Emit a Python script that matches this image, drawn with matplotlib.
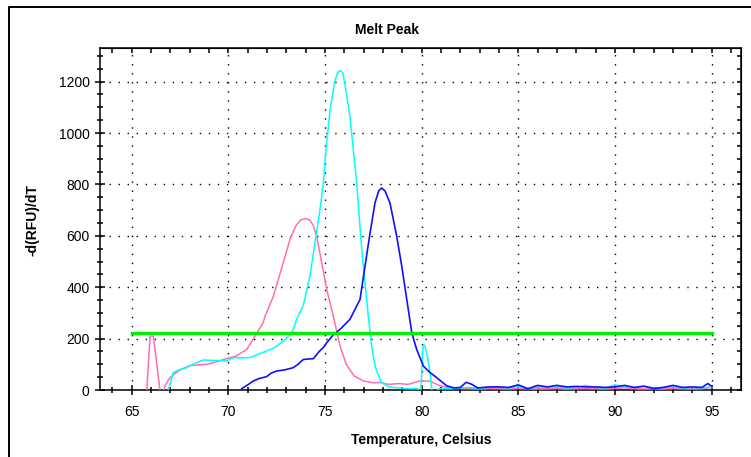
import numpy as np
import matplotlib.pyplot as plt
from matplotlib.lines import Line2D
from matplotlib.ticker import MultipleLocator

plt.rcParams['font.family'] = ['Liberation Sans', 'DejaVu Sans']

# melt peak curves, temperature (C) vs -d(RFU)/dT
pink_t = [65.6, 65.78, 65.95, 66.12, 66.46, 66.6, 66.72, 66.98, 67.2, 67.5, 68.0, 68.5, 68.9,
          69.4, 69.9, 70.4, 70.95, 71.38, 71.8, 71.9, 72.33, 72.84, 73.2, 73.5, 73.75, 73.97,
          74.2, 74.4, 74.57, 74.83, 75.09, 75.43, 75.78, 76.1, 76.5, 77.0, 77.5, 77.84, 78.3,
          78.8, 79.3, 79.9, 80.4, 80.95, 81.5, 82.0, 82.5, 83.0, 83.5, 84.0, 84.5, 85.0,
          85.5, 86.0, 86.5, 87.0, 87.5, 88.0, 88.5, 89.0, 89.5, 90.0, 90.5, 91.0, 91.5,
          92.0, 92.5, 93.0, 93.5, 94.0, 94.5, 95.0]
pink_v = [-40, 0, 210, 210, 0, -20, 16, 48, 62, 78, 95, 98, 100,
          110, 122, 132, 158, 210, 262, 287, 365, 495, 590, 640, 662, 667,
          662, 640, 598, 495, 391, 287, 171, 100, 55, 35, 28, 29, 22,
          25, 22, 35, 35, 16, 8, 6, 5, 4, 6, 5, 4, 6,
          5, 4, 5, 6, 4, 5, 6, 5, 4, 6, 8, 5, 4,
          5, 4, 6, 5, 4, 5, 10]

cyan_t = [66.8, 66.9, 67.15, 67.5, 67.84, 68.3, 68.7, 69.2, 69.9, 70.26, 70.7, 71.12, 71.5,
          71.98, 72.4, 72.84, 73.19, 73.36, 73.53, 73.88, 74.22, 74.48, 74.74, 74.91,
          75.05, 75.26, 75.5, 75.65, 75.78, 75.92, 76.05, 76.29, 76.64, 76.9, 77.07, 77.24,
          77.41, 77.6, 77.9, 78.3, 78.8, 79.3, 79.8, 79.95, 80.05, 80.1, 80.17, 80.3, 80.45,
          80.55, 80.9, 81.5, 82.0, 82.5, 83.0, 83.5, 84.0, 84.5, 85.0, 85.5, 86.0, 86.5,
          87.0, 87.5, 88.0, 88.5, 89.0, 89.5, 90.0, 90.5, 91.0, 91.5, 92.0, 92.5, 93.0,
          93.5, 94.0, 94.5, 95.0]
cyan_v = [-20, 0, 68, 80, 87, 105, 117, 115, 113, 126, 125, 126, 138,
          152, 165, 190, 215, 236, 275, 330, 443, 572, 702, 805,
          935, 1090, 1200, 1235, 1243, 1235, 1180, 1064, 805, 546, 417, 287,
          171, 90, 30, 12, 8, 5, 5, -20, 150, 177, 171, 130, 60,
          -20, 5, 5, 8, 10, 6, 12, 10, 8, 14, 6, 12, 10,
          12, 8, 10, 18, 10, 8, 20, 12, 10, 14, 8, 10, 12,
          8, 10, 8, 12]

blue_t = [70.69, 71.0, 71.29, 71.6, 71.98, 72.2, 72.5, 72.9, 73.36, 73.6, 73.88, 74.4, 74.7,
          74.91, 75.09, 75.43, 75.78, 76.29, 76.81, 77.07, 77.33, 77.59, 77.78, 77.93, 78.1,
          78.36, 78.71, 78.97, 79.23, 79.49, 79.74, 80.09, 80.4, 80.78, 81.3, 81.7, 82.0,
          82.3, 82.6, 82.9, 83.5, 84.0, 84.5, 85.0, 85.5, 86.0, 86.5, 87.0, 87.5, 88.0,
          88.5, 89.0, 89.5, 90.0, 90.5, 91.0, 91.5, 92.0, 92.5, 93.0, 93.5, 94.0, 94.5,
          94.8, 95.0]
blue_v = [5, 20, 35, 45, 52, 65, 74, 78, 87, 100, 119, 122, 150,
          165, 184, 215, 236, 275, 352, 482, 611, 730, 775, 786, 775,
          728, 598, 482, 352, 223, 158, 93, 70, 48, 16, 8, 10,
          30, 22, 8, 12, 12, 10, 20, 5, 18, 12, 18, 12, 14,
          12, 12, 10, 12, 18, 10, 15, 6, 10, 18, 10, 12, 10,
          25, 15]

threshold = 220
thr_t = [65, 95]

fig = plt.figure(figsize=(7.51, 4.57), dpi=100)
W, H = 751, 457
ax = fig.add_axes([100 / W, 1 - 390 / H, 641 / W, 342.3 / H])

ax.plot(pink_t, pink_v, color='#ff6eb4', lw=1.1, zorder=3)
ax.plot(cyan_t, cyan_v, color='#00ffff', lw=1.1, zorder=3)
ax.plot(blue_t, blue_v, color='#1010ff', lw=1.2, zorder=4)
ax.plot(thr_t, [threshold, threshold], color='#00ee00', lw=2.4, zorder=5)

ax.set_xlim(63.36, 96.52)
ax.set_ylim(0, 1332)

ax.xaxis.set_major_locator(MultipleLocator(5))
ax.xaxis.set_minor_locator(MultipleLocator(1))
ax.yaxis.set_major_locator(MultipleLocator(200))
ax.yaxis.set_minor_locator(MultipleLocator(50))
ax.tick_params(which='major', direction='inout', length=7, width=1.1, labelsize=10, pad=4)
ax.tick_params(which='minor', direction='inout', length=4, width=1.1)
ax.tick_params(axis='x', pad=7)

ax.grid(True, which='major', color='black', lw=1.0, linestyle=(0, (1, 5.5)))

for s in ax.spines.values():
    s.set_linewidth(1.1)

# inward ticks on the top and right edges
top = ax.secondary_xaxis('top')
top.xaxis.set_major_locator(MultipleLocator(5))
top.xaxis.set_minor_locator(MultipleLocator(1))
top.tick_params(which='both', direction='in', length=3.5, width=1.1, labeltop=False)
right = ax.secondary_yaxis('right')
right.yaxis.set_major_locator(MultipleLocator(200))
right.yaxis.set_minor_locator(MultipleLocator(50))
right.tick_params(which='both', direction='in', length=3, width=1.1, labelright=False)

fig.text(386.7 / W, 1 - 30 / H, 'Melt Peak', ha='center', va='center',
         fontsize=10, fontweight='bold')
fig.text(421.5 / W, 1 - 440 / H, 'Temperature, Celsius', ha='center', va='center',
         fontsize=10, fontweight='bold')
fig.text(32 / W, 1 - 220 / H, '-d(RFU)/dT', ha='center', va='center',
         rotation=90, fontsize=10, fontweight='bold')

# outer frame edges
fig.add_artist(Line2D([8.5 / W, 8.5 / W, 1], [0, 1 - 6.5 / H, 1 - 6.5 / H],
                      color='black', lw=1.4, transform=fig.transFigure))

fig.savefig('out.png', dpi=100)
